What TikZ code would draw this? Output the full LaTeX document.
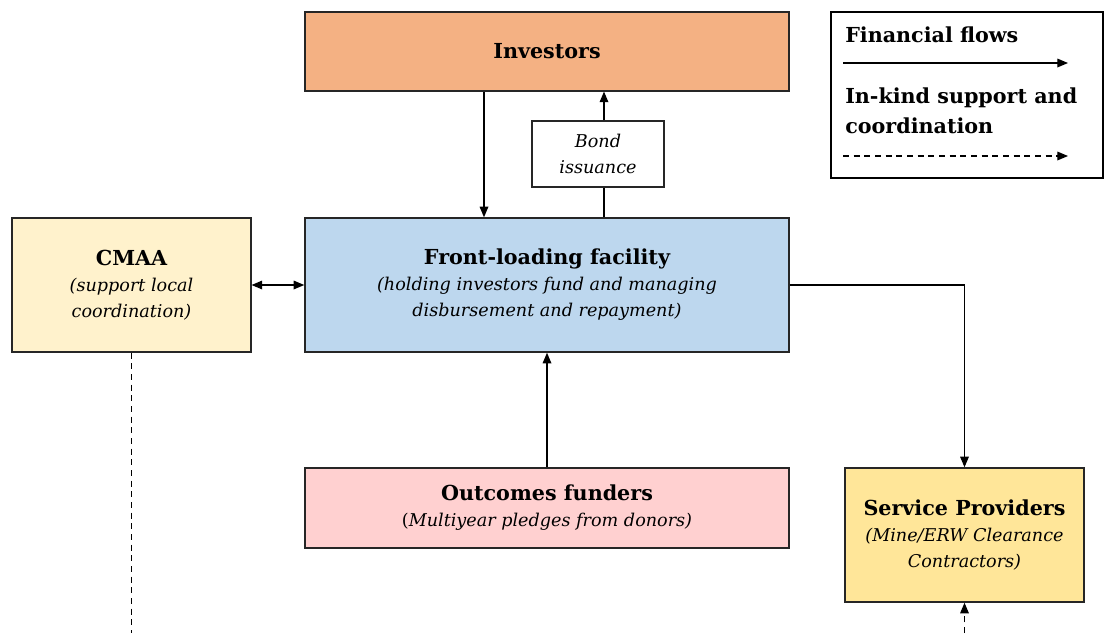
\documentclass[tikz,border=0pt]{standalone}
\usepackage{fontspec}
\setmainfont{DejaVu Serif}
\usetikzlibrary{positioning, arrows.meta, calc}

\definecolor{invfill}{HTML}{F4B183}
\definecolor{frontfill}{HTML}{BDD7EE}
\definecolor{cmaafill}{HTML}{FFF2CC}
\definecolor{outfill}{HTML}{FFD0D0}
\definecolor{servfill}{HTML}{FFE699}

\newcommand{\hd}[1]{{\fontsize{15.5}{19.5}\selectfont\bfseries #1}}
\newcommand{\sub}[1]{{\itshape #1}}

\begin{document}
\begin{tikzpicture}[x=0.75pt, y=-0.75pt,
    box/.style={draw=black!85, line width=1.1pt, align=center, inner sep=2pt,
      font=\fontsize{13.2}{19.5}\selectfont},
    tip/.style={Triangle[length=8pt,width=6.5pt]},
    flow/.style={-{Triangle[length=8pt,width=6.5pt]}, line width=0.9pt},
    inkind/.style={flow, dashed, dash pattern=on 4.5pt off 3.5pt}]
  \useasboundingbox (0,0) rectangle (1104,633);

  % Nodes
  \node[box, fill=invfill, minimum width=363pt, minimum height=59pt] (investors) at (547,51.5) {\hd{Investors}};
  \node[box, fill=white, line width=0.8pt, minimum width=99pt, minimum height=49.5pt] (bond) at (598,154)
    {\sub{Bond}\\\sub{issuance}};
  \node[box, fill=frontfill, minimum width=363pt, minimum height=100.5pt] (front) at (547,285)
    {\hd{Front-loading facility}\\\sub{(holding investors fund and managing}\\\sub{disbursement and repayment)}};
  \node[box, fill=cmaafill, minimum width=179pt, minimum height=100.5pt] (cmaa) at (131.5,285)
    {\hd{CMAA}\\\sub{(support local}\\\sub{coordination)}};
  \node[box, fill=outfill, minimum width=363pt, minimum height=60pt] (funders) at (547,508)
    {\hd{Outcomes funders}\\(\textit{Multiyear pledges from donors)}};
  \node[box, fill=servfill, minimum width=179pt, minimum height=100.5pt] (service) at (964.5,535)
    {\hd{Service Providers}\\\sub{(Mine/ERW Clearance}\\\sub{Contractors)}};

  % Legend
  \node[draw, line width=0.8pt, minimum width=204pt, minimum height=124.5pt] (legend) at (967,95) {};
  \node[anchor=base west, inner sep=0pt] (lgfin) at (845,42) {\hd{Financial flows}};
  \node[anchor=base west, inner sep=0pt, align=left, font=\fontsize{15.5}{22.5}\selectfont] (lgkind) at (845,133)
    {\hd{In-kind support and}\\\hd{coordination}};
  \coordinate (fin1) at (843,63);
  \coordinate (fin2) at (1068,63);
  \coordinate (kind1) at (843,156);
  \coordinate (kind2) at (1068,156);
  \draw[flow] (fin1) -- (fin2);
  \draw[inkind] (kind1) -- (kind2);

  % Arrows
  \draw[flow] (investors.south -| 484,0) -- (front.north -| 484,0);
  \draw[line width=0.9pt] (front.north -| 604,0) -- (bond.south -| 604,0);
  \draw[flow] (bond.north -| 604,0) -- (investors.south -| 604,0);
  \draw[{Triangle[length=8pt,width=6.5pt]}-{Triangle[length=8pt,width=6.5pt]}, line width=0.9pt] (cmaa.east) -- (front.west);
  \draw[flow] (funders.north) -- (front.south);
  \draw[flow] (front.east) -| (service.north);
  \coordinate (cmaaend) at (131.5,633);
  \coordinate (servstart) at (964.5,633);
  \draw[line width=0.9pt, dashed, dash pattern=on 4.5pt off 3.5pt] (cmaa.south) -- (cmaaend);
  \draw[inkind] (servstart) -- (service.south);
\end{tikzpicture}
\end{document}
